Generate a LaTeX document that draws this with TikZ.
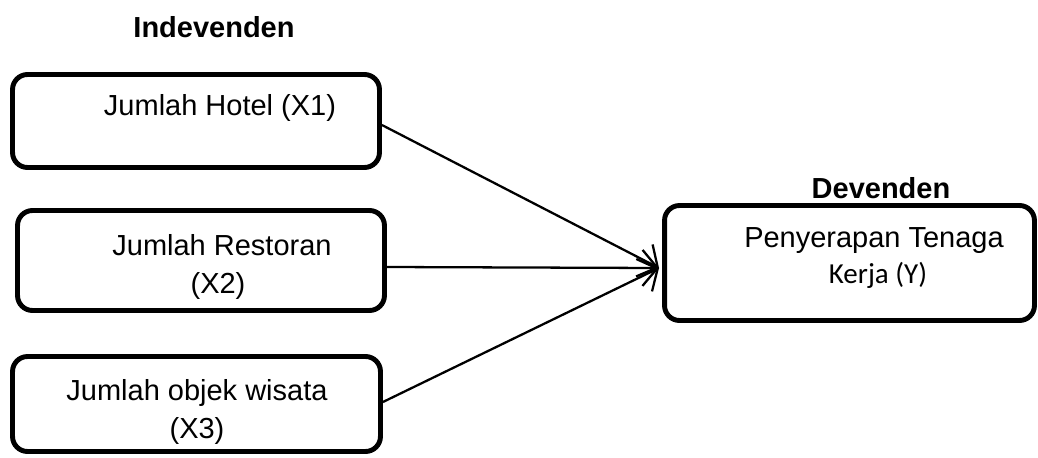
\documentclass[tikz,border=0pt]{standalone}
\usepackage{fontspec}
\setmainfont{Liberation Sans}
\newfontfamily\calibri{Carlito}
\usepackage{tikz}
\usetikzlibrary{arrows.meta, positioning}
\tikzset{>={Straight Barb[length=0.3cm,width=0.72cm]}}
\tikzset{
    varbox/.style={draw, line width=2.8pt, rounded corners=0.3cm, inner sep=0pt},
    lbl/.style={anchor=base, inner sep=0pt, font=\fontsize{16.5}{19}\selectfont},
    link/.style={->, line width=1.3pt}
}

\begin{document}
\begin{tikzpicture}[x=0.02cm, y=-0.02cm]
        \useasboundingbox (0,0) rectangle (1038,457);
        \node[varbox, minimum width=7.34cm, minimum height=1.86cm] (X1) at (196,121) {};
        \node[varbox, minimum width=7.34cm, minimum height=2.0cm] (X2) at (201,260.5) {};
        \node[varbox, minimum width=7.36cm, minimum height=1.9cm] (X3) at (196.5,404) {};
        \node[varbox, minimum width=7.4cm, minimum height=2.3cm] (Y) at (849.5,263) {};
        
        \node[lbl, font=\fontsize{16.5}{19}\selectfont\bfseries] (indep) at (214,37) {Indevenden};
        \node[lbl, font=\fontsize{16.5}{19}\selectfont\bfseries] (dep) at (881,198) {Devenden};
        \node[lbl] (t1) at (220,115) {Jumlah Hotel (X1)};
        \node[lbl] (t2a) at (222,255) {Jumlah Restoran};
        \node[lbl] (t2b) at (218,293) {(X2)};
        \node[lbl] (t3a) at (197,400) {Jumlah objek wisata};
        \node[lbl] (t3b) at (197,438) {(X3)};
        \node[lbl] (ty1) at (874,247) {Penyerapan Tenaga};
        \node[lbl, font=\fontsize{16.5}{19}\selectfont\calibri] (ty2) at (878,283) {Kerja (Y)};
        
        \coordinate (tip) at (659,268);
        \draw[link]([yshift=-0.08cm]X1.east)--(tip);
        \draw[link]([yshift=-0.13cm]X2.east)--(tip);
        \draw[link]([yshift=0.04cm]X3.east)--(tip);
        \end{tikzpicture}
\end{document}
